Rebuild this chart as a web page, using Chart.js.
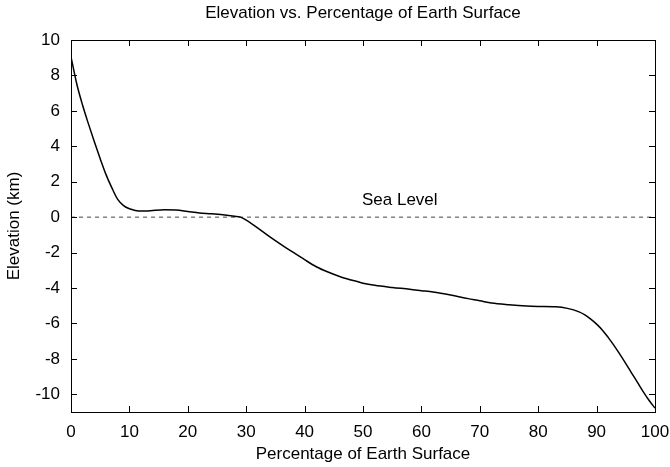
<!DOCTYPE html>
<html>
<head>
<meta charset="utf-8">
<script src="https://cdn.jsdelivr.net/npm/chart.js@4/dist/chart.umd.min.js"></script>
<style>
    html, body { margin: 0; padding: 0; background: #fff; }
    #wrap { width: 670px; height: 467px; }
</style>
</head>
<body>
<div id="wrap"><canvas id="chart"></canvas></div>
<script>
// Elevation curve (hypsographic curve)
const percent = [0, 1, 2, 3, 4, 5, 6, 7, 8, 9, 10, 11, 12, 13, 14, 16, 18, 20, 22, 24, 26, 28, 29, 30, 32, 34, 36, 38, 40, 42, 44, 46, 48, 50, 52, 55, 58, 60, 62, 65, 68, 70, 72, 75, 78, 80, 83, 85, 87, 88, 89, 90, 91, 92, 93, 94, 95, 96, 97, 98, 99, 100];
const elevation = [9.05, 7.5, 6.3, 5.25, 4.25, 3.3, 2.4, 1.65, 1.0, 0.65, 0.47, 0.38, 0.34, 0.35, 0.38, 0.42, 0.4, 0.32, 0.24, 0.19, 0.13, 0.05, 0.0, -0.17, -0.62, -1.1, -1.55, -1.98, -2.4, -2.8, -3.1, -3.35, -3.55, -3.73, -3.85, -3.97, -4.07, -4.15, -4.23, -4.4, -4.6, -4.72, -4.85, -4.95, -5.02, -5.04, -5.06, -5.15, -5.35, -5.52, -5.76, -6.04, -6.38, -6.8, -7.25, -7.75, -8.27, -8.8, -9.33, -9.86, -10.35, -10.78];

// Sea level reference line
const seaLevelX = [0, 100];
const seaLevelY = [0, 0];

// Tick labels
const xTicks = [0, 10, 20, 30, 40, 50, 60, 70, 80, 90, 100];
const yTicks = [-10, -8, -6, -4, -2, 0, 2, 4, 6, 8, 10];

const FONT = "'Liberation Sans', Arial, Helvetica, sans-serif";
const FONT_SIZE = 17;

// Box around plot area with inward ticks on all four sides
const framePlugin = {
    id: 'frame',
    afterDatasetsDraw: function(chart) {
        const ctx = chart.ctx;
        const area = chart.chartArea;
        const xs = chart.scales.x;
        const ys = chart.scales.y;
        const len = 6;

        ctx.save();
        ctx.strokeStyle = '#000';
        ctx.lineWidth = 1;
        ctx.beginPath();
        xTicks.forEach(v => {
            const px = Math.round(xs.getPixelForValue(v)) + 0.5;
            ctx.moveTo(px, area.bottom);
            ctx.lineTo(px, area.bottom - len);
            ctx.moveTo(px, area.top);
            ctx.lineTo(px, area.top + len);
        });
        yTicks.forEach(v => {
            const py = Math.round(ys.getPixelForValue(v)) + 0.5;
            ctx.moveTo(area.left, py);
            ctx.lineTo(area.left + len, py);
            ctx.moveTo(area.right, py);
            ctx.lineTo(area.right - len, py);
        });
        ctx.stroke();
        ctx.strokeRect(Math.round(area.left) + 0.5, Math.round(area.top) + 0.5,
            Math.round(area.right - area.left), Math.round(area.bottom - area.top));

        // Sea level label
        ctx.fillStyle = '#000';
        ctx.font = FONT_SIZE + 'px ' + FONT;
        ctx.textAlign = 'center';
        ctx.textBaseline = 'alphabetic';
        ctx.fillText('Sea Level', xs.getPixelForValue(56.3), ys.getPixelForValue(0.66));
        ctx.restore();
    }
};

const ctx = document.getElementById('chart');
new Chart(ctx, {
    type: 'line',
    data: {
        datasets: [
            {
                label: 'Elevation',
                data: percent.map((p, i) => ({ x: p, y: elevation[i] })),
                borderColor: '#000',
                borderWidth: 1.5,
                pointRadius: 0,
                cubicInterpolationMode: 'monotone',
                fill: false
            },
            {
                label: 'Sea Level',
                data: seaLevelX.map((p, i) => ({ x: p, y: seaLevelY[i] })),
                borderColor: '#444',
                borderWidth: 1,
                borderDash: [4, 4],
                pointRadius: 0,
                fill: false
            }
        ]
    },
    options: {
        responsive: true,
        maintainAspectRatio: false,
        animation: false,
        layout: {
            padding: { left: 0, right: 15, top: 0, bottom: 0 }
        },
        plugins: {
            legend: { display: false },
            tooltip: { enabled: false },
            title: {
                display: true,
                fullSize: false,
                text: 'Elevation vs. Percentage of Earth Surface',
                color: '#000',
                font: { family: FONT, size: FONT_SIZE, weight: 'normal' },
                padding: { top: 2.8, bottom: 16.8 }
            }
        },
        scales: {
            x: {
                type: 'linear',
                min: 0,
                max: 100,
                afterBuildTicks: function(scale) {
                    scale.ticks = xTicks.map(v => ({ value: v }));
                },
                afterFit: function(scale) {
                    scale.height = 55;
                    scale.paddingLeft = 0;
                    scale.paddingRight = 0;
                },
                grid: { display: false, drawTicks: false },
                border: { display: false },
                ticks: {
                    color: '#000',
                    padding: 10,
                    maxRotation: 0,
                    font: { family: FONT, size: FONT_SIZE }
                },
                title: {
                    display: true,
                    text: 'Percentage of Earth Surface',
                    color: '#000',
                    font: { family: FONT, size: FONT_SIZE },
                    padding: { top: 0, bottom: 2 }
                }
            },
            y: {
                type: 'linear',
                min: -11,
                max: 10,
                afterBuildTicks: function(scale) {
                    scale.ticks = yTicks.map(v => ({ value: v }));
                },
                afterFit: function(scale) {
                    scale.width = 71;
                    scale.paddingTop = 0;
                    scale.paddingBottom = 0;
                },
                grid: { display: false, drawTicks: false },
                border: { display: false },
                ticks: {
                    color: '#000',
                    padding: 11,
                    font: { family: FONT, size: FONT_SIZE }
                },
                title: {
                    display: true,
                    text: 'Elevation (km)',
                    color: '#000',
                    font: { family: FONT, size: FONT_SIZE },
                    padding: { top: 4, bottom: 0 }
                }
            }
        }
    },
    plugins: [framePlugin]
});
</script>
</body>
</html>
